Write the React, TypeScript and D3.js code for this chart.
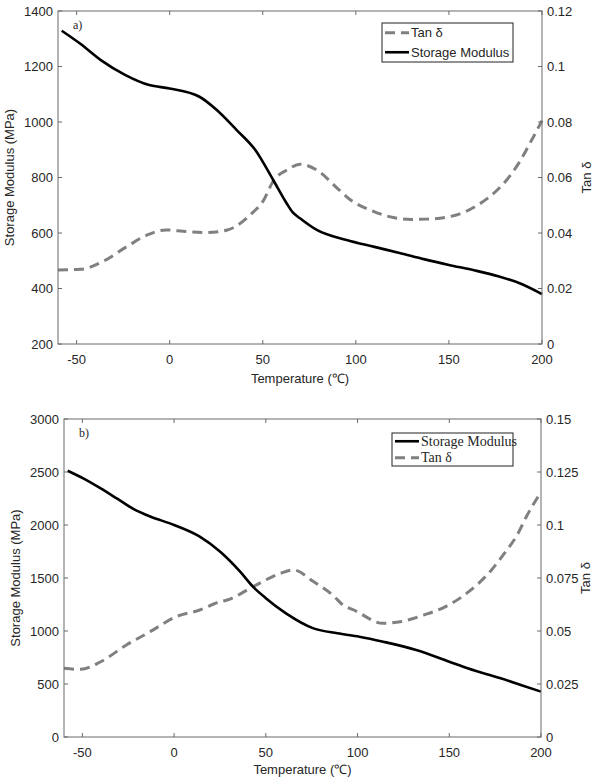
import React from "react";
import * as d3 from "d3";

// ---- Data (a) ----
const aModT = [-58, -48, -37, -24, -11, 0, 16, 25, 36, 46, 55.6, 62.8, 66, 70, 79, 95, 110, 124, 137, 150, 164, 177, 188, 200];
const aModV = [1329, 1282, 1223, 1170, 1133, 1121, 1091, 1045, 971, 899, 791, 707, 675, 653, 611, 575, 550, 527, 505, 485, 465, 443, 419, 380];
const aTanT = [-60, -48, -36, -23, -12, -2, 9, 20, 31, 38, 44, 50, 56, 63, 70, 79, 91, 97, 108, 118, 130, 138, 154, 164, 173, 181, 188, 193.5, 200];
const aTanV = [0.0267, 0.0269, 0.0297, 0.0351, 0.0393, 0.0411, 0.0405, 0.0402, 0.0411, 0.0435, 0.047, 0.0513, 0.0591, 0.0627, 0.0648, 0.0627, 0.0555, 0.052, 0.0482, 0.0459, 0.0449, 0.045, 0.0465, 0.0495, 0.0537, 0.0591, 0.0657, 0.0723, 0.0805];

// ---- Data (b) ----
const bModT = [-58, -49, -40, -31, -22, -13, 0, 14, 25, 36, 43, 50, 61, 76, 89, 101, 114, 132, 150, 160, 178, 189, 200];
const bModV = [2512, 2435, 2345, 2248, 2150, 2080, 2000, 1890, 1750, 1560, 1418, 1310, 1167, 1025, 978, 946, 899, 821, 710, 648, 554, 491, 428];
const bTanT = [-60, -51, -40, -26, -13, 1, 14, 25, 29, 43, 58, 65, 76, 87, 92, 98, 114, 124, 136, 148, 157, 166, 173, 180, 187, 192, 199];
const bTanV = [0.0324, 0.0319, 0.0355, 0.0434, 0.0497, 0.0567, 0.0599, 0.0638, 0.0646, 0.0709, 0.0772, 0.0788, 0.0733, 0.0665, 0.0623, 0.0599, 0.0536, 0.0545, 0.0575, 0.0615, 0.0662, 0.0725, 0.0788, 0.0866, 0.0953, 0.1039, 0.1142];

const xTicks = [-50, 0, 50, 100, 150, 200];
const aLeftTicks = [200, 400, 600, 800, 1000, 1200, 1400];
const aRightTicks = [0, 0.02, 0.04, 0.06, 0.08, 0.1, 0.12];
const bLeftTicks = [0, 500, 1000, 1500, 2000, 2500, 3000];
const bRightTicks = [0, 0.025, 0.05, 0.075, 0.1, 0.125, 0.15];

const SANS = "'Liberation Sans', Arial, sans-serif";
const SERIF = "'Liberation Serif', 'Times New Roman', serif";
const AX = "#6a6a6a";
const TXT = "#262626";
const DASH = "10,6";

type PanelProps = {
  left: number; right: number; top: number; bottom: number;
  yDom: [number, number]; y2Dom: [number, number];
  leftTicks: number[]; rightTicks: number[];
  modT: number[]; modV: number[]; tanT: number[]; tanV: number[];
  tag: string; xLabelY: number;
  legend: { x: number; y: number; w: number; h: number; serif: boolean; order: ("mod" | "tan")[] };
};

function Panel(p: PanelProps) {
  const x = d3.scaleLinear().domain([-60, 200]).range([p.left, p.right]);
  const y = d3.scaleLinear().domain(p.yDom).range([p.bottom, p.top]);
  const y2 = d3.scaleLinear().domain(p.y2Dom).range([p.bottom, p.top]);
  const modLine = d3.line<number>().x((_, i) => x(p.modT[i])).y((v) => y(v)).curve(d3.curveMonotoneX);
  const tanLine = d3.line<number>().x((_, i) => x(p.tanT[i])).y((v) => y2(v)).curve(d3.curveMonotoneX);
  const tl = 4;
  const fmtR = (v: number) => (v === 0 ? "0" : String(+v.toFixed(3)));
  const lg = p.legend;
  const rowH = lg.h / 2;
  return (
    <g>
      <path d={tanLine(p.tanV) || ""} fill="none" stroke="#808080" strokeWidth={3} strokeDasharray={DASH} />
      <path d={modLine(p.modV) || ""} fill="none" stroke="#000" strokeWidth={2.6} />
      <rect x={p.left} y={p.top} width={p.right - p.left} height={p.bottom - p.top} fill="none" stroke={AX} strokeWidth={1} />
      {xTicks.map((t) => (
        <g key={"x" + t}>
          <line x1={x(t)} x2={x(t)} y1={p.bottom} y2={p.bottom - tl} stroke={AX} />
          <line x1={x(t)} x2={x(t)} y1={p.top} y2={p.top + tl} stroke={AX} />
          <text x={x(t)} y={p.bottom + 20} textAnchor="middle" fontFamily={SANS} fontSize={13} fill={TXT}>{t}</text>
        </g>
      ))}
      {p.leftTicks.map((t) => (
        <g key={"l" + t}>
          <line x1={p.left} x2={p.left + tl} y1={y(t)} y2={y(t)} stroke={AX} />
          <text x={p.left - 5} y={y(t) + 4.5} textAnchor="end" fontFamily={SANS} fontSize={13} fill={TXT}>{t}</text>
        </g>
      ))}
      {p.rightTicks.map((t) => (
        <g key={"r" + t}>
          <line x1={p.right} x2={p.right - tl} y1={y2(t)} y2={y2(t)} stroke={AX} />
          <text x={p.right + 5} y={y2(t) + 4.5} textAnchor="start" fontFamily={SANS} fontSize={13} fill={TXT}>{fmtR(t)}</text>
        </g>
      ))}
      <text x={(p.left + p.right) / 2} y={p.xLabelY} textAnchor="middle" fontFamily={SANS} fontSize={13} fill={TXT}>Temperature (℃)</text>
      <text transform={`translate(${p.left - 44},${(p.top + p.bottom) / 2}) rotate(-90)`} textAnchor="middle" fontFamily={SANS} fontSize={13} fill={TXT}>Storage Modulus (MPa)</text>
      <text transform={`translate(${p.right + 49},${(p.top + p.bottom) / 2}) rotate(-90)`} textAnchor="middle" fontFamily={SANS} fontSize={13} fill={TXT}>Tan δ</text>
      <text x={p.left + 15} y={p.top + 18} fontFamily={SERIF} fontSize={12} fill={TXT}>{p.tag}</text>
      <rect x={lg.x} y={lg.y} width={lg.w} height={lg.h} fill="#fff" stroke="#222" strokeWidth={1} />
      {lg.order.map((k, i) => {
        const cy = lg.y + rowH * (i + 0.5);
        return (
          <g key={k}>
            {k === "mod" ? (
              <line x1={lg.x + 3} x2={lg.x + 27} y1={cy} y2={cy} stroke="#000" strokeWidth={2.6} />
            ) : (
              <line x1={lg.x + 3} x2={lg.x + 27} y1={cy} y2={cy} stroke="#808080" strokeWidth={3} strokeDasharray={DASH} />
            )}
            <text x={lg.x + 29} y={cy + 4.5} fontFamily={lg.serif ? SERIF : SANS} fontSize={lg.serif ? 14 : 13} fill={TXT}>
              {k === "mod" ? "Storage Modulus" : "Tan δ"}
            </text>
          </g>
        );
      })}
    </g>
  );
}

export default function App() {
  return (
    <div style={{ position: "absolute", left: 0, top: 0 }}>
      <svg width={600} height={782} style={{ display: "block", background: "#fff" }}>
        <rect width={600} height={782} fill="#fff" />
        <Panel left={58} right={542} top={11} bottom={344} yDom={[200, 1400]} y2Dom={[0, 0.12]}
          leftTicks={aLeftTicks} rightTicks={aRightTicks}
          modT={aModT} modV={aModV} tanT={aTanT} tanV={aTanV} tag="a)" xLabelY={383}
          legend={{ x: 382, y: 23, w: 131, h: 39, serif: false, order: ["tan", "mod"] }} />
        <Panel left={64} right={541} top={419} bottom={737} yDom={[0, 3000]} y2Dom={[0, 0.15]}
          leftTicks={bLeftTicks} rightTicks={bRightTicks}
          modT={bModT} modV={bModV} tanT={bTanT} tanV={bTanV} tag="b)" xLabelY={774}
          legend={{ x: 392, y: 433, w: 121, h: 33, serif: true, order: ["mod", "tan"] }} />
      </svg>
    </div>
  );
}
